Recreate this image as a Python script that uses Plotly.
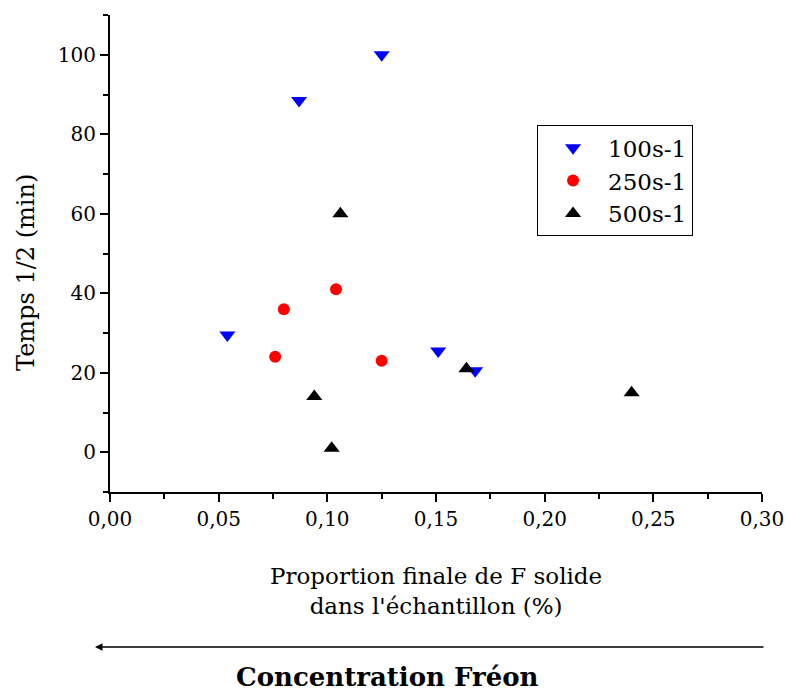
import plotly.graph_objects as go

# data
x_100 = [0.087, 0.125, 0.054, 0.151, 0.168]
y_100 = [88.5, 100, 29.5, 25.5, 20.5]

x_250 = [0.080, 0.076, 0.104, 0.125]
y_250 = [36, 24, 41, 23]

x_500 = [0.106, 0.094, 0.102, 0.164, 0.240]
y_500 = [60, 14, 1, 21, 15]

font_family = "DejaVu Serif"

fig = go.Figure()
fig.add_trace(go.Scatter(x=x_100, y=y_100, mode="markers", name="100s-1",
                         marker=dict(symbol="triangle-down", size=14, color="#0000ff")))
fig.add_trace(go.Scatter(x=x_250, y=y_250, mode="markers", name="250s-1",
                         marker=dict(symbol="circle", size=12, color="#ff0000")))
fig.add_trace(go.Scatter(x=x_500, y=y_500, mode="markers", name="500s-1",
                         marker=dict(symbol="triangle-up", size=14, color="#000000")))

axis_common = dict(showgrid=False, zeroline=False, showline=True, linecolor="black", linewidth=2,
                   ticks="outside", ticklen=8, tickwidth=2, tickcolor="black", automargin=False,
                   tickfont=dict(family=font_family, size=20, color="black"))

fig.update_xaxes(range=[0, 0.30], dtick=0.05, tick0=0, tickformat=".2f",
                 minor=dict(ticks="outside", ticklen=5, tickwidth=2, tickcolor="black", dtick=0.025),
                 **axis_common)
fig.update_yaxes(range=[-10, 110], dtick=20, tick0=0,
                 minor=dict(ticks="outside", ticklen=5, tickwidth=2, tickcolor="black", dtick=10),
                 **axis_common)

fig.update_layout(
    width=787, height=691,
    margin=dict(l=110, r=25, t=15, b=199),
    plot_bgcolor="white", paper_bgcolor="white",
    separators=", ",
    font=dict(family=font_family, size=20, color="black"),
    legend=dict(x=0.655, y=0.769, xanchor="left", yanchor="top",
                bordercolor="black", borderwidth=1, bgcolor="white",
                itemwidth=60, tracegroupgap=0,
                font=dict(family=font_family, size=23)),
    annotations=[
        dict(text="Proportion finale de F solide<br>dans l'échantillon (%)",
             xref="paper", yref="paper", x=0.5, y=-0.2075, showarrow=False,
             xanchor="center", yanchor="middle", font=dict(size=23)),
        dict(text="Temps 1/2 (min)", textangle=-90,
             xref="paper", yref="paper", x=-0.129, y=0.461, showarrow=False,
             xanchor="center", yanchor="middle", font=dict(size=24)),
        # arrow pointing left
        dict(text="", xref="paper", yref="paper", axref="pixel", ayref="pixel",
             x=-0.023, y=-0.325, ax=670, ay=0,
             showarrow=True, arrowhead=2, arrowsize=1, arrowwidth=1.5, arrowcolor="black"),
        dict(text="<b>Concentration Fréon</b>",
             xref="paper", yref="paper", x=0.425, y=-0.388, showarrow=False,
             xanchor="center", yanchor="middle", font=dict(size=26)),
    ],
)

fig.write_html("out.html", config={"displayModeBar": False},
               post_script="document.body.style.margin='0px';")
